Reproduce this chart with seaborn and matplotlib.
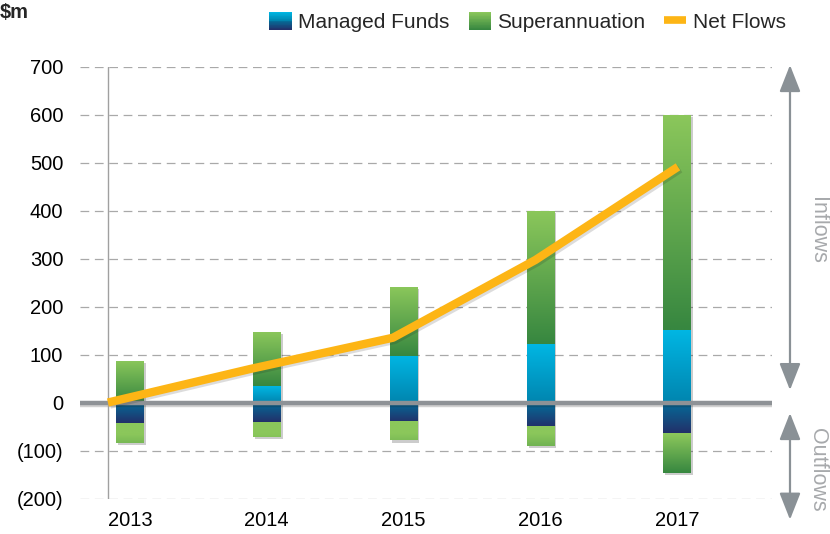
import numpy as np
import matplotlib
matplotlib.use("Agg")
import matplotlib.pyplot as plt
import seaborn as sns
from matplotlib import patheffects as pe, transforms
from matplotlib.patches import FancyArrowPatch, Rectangle, Patch
from matplotlib.lines import Line2D
from matplotlib.legend_handler import HandlerBase
from matplotlib.colors import to_rgb

# ---------------- data ----------------
years = ["2013", "2014", "2015", "2016", "2017"]
managed_in = [0, 35, 98, 122, 152]
super_in = [88, 113, 144, 278, 448]
managed_out = [-42, -40, -40, -50, -63]
super_out = [-41, -31, -38, -40, -82]
net_flows = [1, 71, 136, 298, 492]
y_ticks = [-200, -100, 0, 100, 200, 300, 400, 500, 600, 700]
y_tick_labels = ["(200)", "(100)", "0", "100", "200", "300", "400", "500", "600", "700"]

# ---------------- style ----------------
SUP_LIGHT = "#8BC75B"
SUP_DARK = "#378740"
MF_CYAN = "#00B6E3"
MF_MID = "#0085AF"
MF_TEAL = "#056C98"
MF_NAVY = "#22306A"
ORANGE = "#FDB515"
GREY = "#8E9296"

sns.set_theme(style="white")
plt.rcParams["font.family"] = ["Liberation Sans", "DejaVu Sans"]

fig = plt.figure(figsize=(8.3, 5.34), dpi=100)
ax = fig.add_axes([80 / 830, 1 - 499 / 534, 692 / 830, 432 / 534])

total_in = [m + s for m, s in zip(managed_in, super_in)]
total_out = [m + s for m, s in zip(managed_out, super_out)]


def add_bars(vals, color):
    n0 = len(ax.patches)
    sns.barplot(x=years, y=vals, order=years, ax=ax, color=color, width=0.2,
                saturation=1, errorbar=None, linewidth=0)
    return ax.patches[n0:]


def grad(patch, lo, hi, cols):
    if hi - lo <= 0:
        return
    x0 = patch.get_x()
    x1 = x0 + patch.get_width()
    img = np.asarray(cols)[:, None, :]
    im = ax.imshow(img, extent=(x0, x1, lo, hi), origin="lower", aspect="auto",
                   interpolation="bilinear", zorder=patch.get_zorder() + 0.01)
    im.set_clip_path(patch)


def lin(bot, top, n=64):
    t = np.linspace(0, 1, n)[:, None]
    return (1 - t) * np.array(to_rgb(bot)) + t * np.array(to_rgb(top))


p_sin = add_bars(total_in, SUP_DARK)
p_min = add_bars(managed_in, MF_MID)
p_sout = add_bars(total_out, SUP_LIGHT)
p_mout = add_bars(managed_out, MF_NAVY)

shadow = [pe.SimplePatchShadow(offset=(1.5, -1.5), shadow_rgbFace="k", alpha=0.22), pe.Normal()]
for p in list(p_sin) + list(p_sout):
    p.set_path_effects(shadow)

for i in range(len(years)):
    grad(p_sin[i], managed_in[i], total_in[i], lin(SUP_DARK, SUP_LIGHT))
    grad(p_min[i], 0, managed_in[i], lin(MF_MID, MF_CYAN))
    grad(p_mout[i], managed_out[i], 0, lin(MF_NAVY, MF_TEAL))
    lo, hi = total_out[i], managed_out[i]
    v = np.linspace(lo, hi, 64)
    f = np.clip((-v - 65) / 80, 0, 1)[:, None]
    cols = (1 - f) * np.array(to_rgb(SUP_LIGHT)) + f * np.array(to_rgb(SUP_DARK))
    grad(p_sout[i], lo, hi, cols)

# zero line
ax.axhline(0, color=GREY, lw=3.2, zorder=5,
           path_effects=[pe.SimpleLineShadow(offset=(0, -1.2), alpha=0.2, shadow_color="k"), pe.Normal()])

# grid
ax.yaxis.grid(True, color="#A9A9A9", linestyle=(0, (7, 4.5)), linewidth=0.9)
ax.xaxis.grid(False)
ax.set_axisbelow(True)

ax.set_yticks(y_ticks)
ax.set_yticklabels(y_tick_labels)
ax.tick_params(axis="y", length=0, pad=12, labelsize=14.5, labelcolor="black")
ax.tick_params(axis="x", length=0, pad=9, labelsize=14.5, labelcolor="black")
ax.set_xlabel("")
ax.set_ylabel("")
for s in ax.spines.values():
    s.set_visible(False)

# net flows on a secondary category axis
ax2 = ax.twiny()
sns.lineplot(x=np.arange(len(years)), y=net_flows, ax=ax2, color=ORANGE, lw=6.0,
             solid_capstyle="butt", solid_joinstyle="round", zorder=6,
             path_effects=[pe.SimpleLineShadow(offset=(1.5, -1.5), alpha=0.15, shadow_color="k"), pe.Normal()])
ax2.axvline(0, color="#A0A0A0", lw=1.0, zorder=0.5)
ax2.set_xticks([])
ax2.set_xlabel("")
ax2.set_ylabel("")
ax2.tick_params(top=False, labeltop=False)
for s in ax2.spines.values():
    s.set_visible(False)

ax.set_xlim(-0.366, 4.695)
ax2.set_xlim(-0.196, 4.66)
ax.set_ylim(-200, 700)

# inflow / outflow arrows
trans = transforms.blended_transform_factory(ax.transAxes, ax.transData)
astyle = "<|-|>,head_length=1.65,head_width=0.65"
for (y0, y1) in [(704, 27), (-21, -243)]:
    arr = FancyArrowPatch((1.026, y0), (1.026, y1), transform=trans, arrowstyle=astyle,
                          mutation_scale=10, color="#8A9196", lw=1.6,
                          shrinkA=0, shrinkB=0, clip_on=False)
    ax.add_artist(arr)
ax.text(1.066, 360, "Inflows", transform=trans, rotation=270, ha="center", va="center",
        color="#A7A9AC", fontsize=15.5, clip_on=False)
ax.text(1.066, -140, "Outflows", transform=trans, rotation=270, ha="center", va="center",
        color="#A7A9AC", fontsize=15.5, clip_on=False)


# legend
class GradHandler(HandlerBase):
    def __init__(self, colors):
        super().__init__()
        self.colors = colors

    def create_artists(self, legend, orig_handle, xdescent, ydescent, width, height, fontsize, trans):
        n = len(self.colors)
        arts = []
        for i, c in enumerate(self.colors):
            r = Rectangle((-xdescent, -ydescent + i * height / n), width, height / n * 1.05,
                          facecolor=c, edgecolor="none", lw=0, transform=trans)
            arts.append(r)
        return arts


mf_leg = np.vstack([lin(MF_NAVY, MF_TEAL, 12), lin(MF_MID, MF_CYAN, 12)])
sup_leg = lin(SUP_DARK, SUP_LIGHT, 24)
h_mf = Patch()
h_sup = Patch()
h_net = Line2D([], [], color=ORANGE, lw=5.5, solid_capstyle="butt")
fig.legend(handles=[h_mf, h_sup, h_net], labels=["Managed Funds", "Superannuation", "Net Flows"],
           handler_map={h_mf: GradHandler([tuple(c) for c in mf_leg]),
                        h_sup: GradHandler([tuple(c) for c in sup_leg])},
           loc="center", bbox_to_anchor=(0.636, 0.959), ncol=3, frameon=False, fontsize=15,
           handlelength=1.06, handleheight=0.96, handletextpad=0.33, columnspacing=0.9,
           borderpad=0, borderaxespad=0)

fig.text(0.0, 1 - 12 / 534, r"\$m", fontsize=14.5, fontweight="bold", ha="left", va="center")

fig.savefig("out.png", dpi=100)
